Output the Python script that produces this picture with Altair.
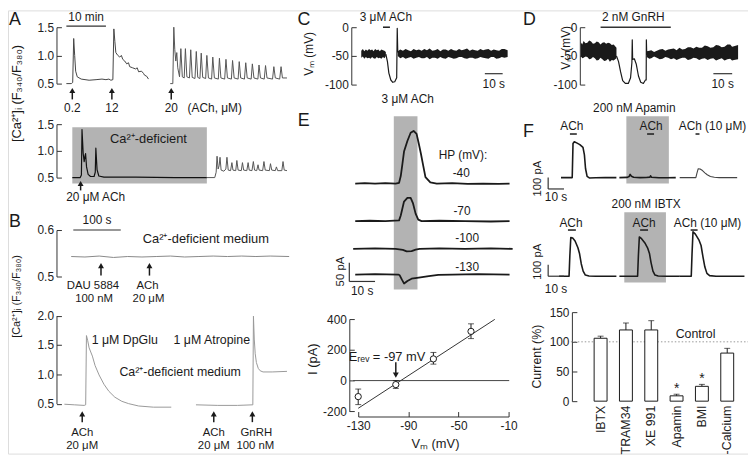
import altair as alt
import pandas as pd

W, H = 748, 448
FONT = "Liberation Sans"
INK = "#1a1a1a"
BOX = "#b3b3b3"

# ---------------- data ----------------
# A (top): time in min, fura-2 ratio
a1_trace1 = [(2.5,0.50),(3.75,0.50),(4.1,0.52),(4.35,1.30),(4.6,1.00),(4.85,0.72),(5.25,0.62),(6.25,0.58),
             (8.25,0.56),(10.0,0.57),(11.5,0.58),(12.5,0.57),(13.25,0.58),(13.75,0.56),(14.25,0.57),(14.5,1.47),
             (14.75,1.25),(15.0,1.05),(15.5,1.00),(16.0,0.97),(16.4,1.00),(16.75,0.93),(17.25,0.90),(17.75,0.85),
             (18.2,0.87),(18.5,0.80),(19.25,0.78),(20.0,0.76),(20.4,0.78),(20.75,0.71),(21.5,0.72),(22.0,0.68),
             (22.25,0.65),(22.8,0.63),(23.25,0.58)]
a1_trace2 = [(28.75,0.50),(29.4,0.50),(29.65,1.50),(29.9,1.10),(30.15,0.90),(30.4,1.05),(30.65,0.78),(31.1,0.62),
             (31.43,1.12),(31.8,0.62),(32.28,0.60),(32.58,1.12),(32.95,0.62),(33.6,0.60),(33.93,1.10),(34.3,0.61),
             (35.0,0.59),(35.33,1.07),(35.7,0.61),(36.25,0.59),(36.58,1.04),(36.95,0.61),(37.7,0.59),(38.0,1.00),
             (38.4,0.60),(39.2,0.58),(39.5,0.97),(39.9,0.60),(40.9,0.58),(41.18,0.95),(41.55,0.60),(42.5,0.58),
             (42.83,0.93),(43.2,0.60),(44.2,0.58),(44.5,0.91),(44.9,0.60),(45.9,0.58),(46.18,0.89),(46.55,0.60),
             (47.5,0.58),(47.83,0.87),(48.2,0.60),(49.2,0.58),(49.5,0.85),(49.9,0.60),(50.9,0.58),(51.18,0.83),
             (51.55,0.60),(52.5,0.58),(52.83,0.82),(53.2,0.60),(54.6,0.58),(54.93,0.80),(55.3,0.60),(56.4,0.58),
             (56.75,0.80),(57.1,0.60),(58.25,0.60)]
a1_arrows = [(4.0,0.22,0.377),(14.0,0.22,0.377),(29.0,0.22,0.377)]
# A (bottom)
a2_trace_in = [(4.0,0.50),(6.0,0.50),(6.3,0.55),(6.45,1.40),(6.75,0.95),(7.0,0.80),(7.2,0.90),(7.35,0.95),
               (7.6,0.70),(8.0,0.56),(8.6,0.52),(9.5,0.52),(9.8,0.60),(9.95,1.05),(10.25,0.65),(10.7,0.53),
               (12.0,0.51),(20.0,0.51),(30.0,0.50),(38.0,0.50)]
a2_trace_out = [(38.0,0.50),(40.0,0.50),(40.35,0.60),(40.58,0.90),(40.85,0.66),(41.1,0.72),(41.33,0.88),(41.6,0.64),
                (42.3,0.62),(42.8,0.66),(43.08,0.88),(43.4,0.64),(44.0,0.63),(44.33,0.78),(44.6,0.64),(45.3,0.63),
                (45.58,0.82),(45.9,0.64),(46.7,0.63),(47.0,0.78),(47.3,0.64),(48.1,0.63),(48.43,0.78),(48.7,0.64),
                (49.4,0.63),(49.75,0.80),(50.05,0.64),(50.6,0.63),(50.93,0.74),(51.2,0.64),(52.1,0.63),(52.43,0.80),
                (52.75,0.64),(53.8,0.63),(54.08,0.76),(54.4,0.64),(55.3,0.63),(55.58,0.70),(55.9,0.63),(56.95,0.63),
                (57.25,0.80),(57.55,0.64),(58.25,0.63)]
a2_arrows = [(6.1,0.26,0.389)]
# B (top): time in s
b1_trace = [(31,0.543),(60,0.542),(90,0.544),(120,0.541),(150,0.543),(180,0.542),(210,0.543),(240,0.544),
            (270,0.542),(300,0.543),(330,0.544),(360,0.543),(390,0.544),(420,0.543),(450,0.544),(490,0.543)]
b1_arrows = [(93.75,0.502,0.5234),(195.8,0.502,0.5234)]
# B (bottom)
b2_trace1 = [(16.7,0.49),(37.5,0.48),(58.3,0.47),(61.5,0.48),(63.1,1.66),(65.6,1.58),(68.75,1.45),(75.6,1.31),
             (81.25,1.15),(89.6,0.99),(100.0,0.83),(110.4,0.71),(122.9,0.61),(137.5,0.54),(152.0,0.50),
             (173.0,0.46),(204.0,0.44),(241.7,0.44)]
b2_trace2 = [(293.75,0.48),(339.6,0.47),(381.25,0.47),(413.5,0.48),(414.8,1.99),(416.5,1.60),(418.5,1.35),
             (421.0,1.20),(425.0,1.10),(429.0,1.06),(435.0,1.04),(454.2,1.04),(485.4,1.05)]
b2_arrows = [(54.2,0.185,0.326),(331.25,0.185,0.326),(412.5,0.185,0.326)]
# C: membrane potential (mV), noise envelope (t, low, high)
c_band1 = [(5.6,-53,-41),(6.5,-51,-38),(7.3,-55,-42),(8.2,-52,-39),(9.0,-54,-41),(10.0,-53,-38),(10.8,-55,-40),
           (11.7,-52,-39),(12.5,-54,-42),(13.4,-55,-38),(14.3,-52,-40),(15.2,-54,-39),(16.0,-53,-42),
           (16.9,-55,-39),(17.8,-52,-40),(18.6,-54,-41),(19.4,-50,-43)]
c_dip = [(19.4,-47),(20.3,-60),(21.1,-80),(22.2,-92),(23.3,-96),(24.4,-95),(25.5,-88),(25.8,-2),(26.1,-44)]
c_band2 = [(26.1,-50,-42),(27.5,-54,-39),(29,-52,-41),(30.5,-55,-38),(32,-53,-40),(33.5,-52,-42),(35,-55,-38),
           (36.5,-53,-40),(38,-52,-39),(39.5,-54,-41),(41,-54,-38),(42.5,-52,-40),(44,-56,-37),(45.5,-53,-41),
           (47,-53,-40),(48.5,-55,-38),(50,-52,-42),(51.5,-54,-39),(53,-55,-39),(54.5,-52,-41),(56,-53,-38),
           (57.5,-55,-40),(59,-54,-41),(60.5,-52,-38),(62,-52,-40),(63.5,-54,-39),(65,-55,-37),(66.5,-53,-41),
           (68,-53,-39),(69.5,-55,-40),(71,-54,-41),(72.5,-52,-38),(74,-53,-40),(75.5,-54,-39),(77,-55,-38),
           (78.5,-52,-41),(80,-52,-39),(81.5,-55,-40),(83,-54,-41),(84.5,-52,-38),(86,-53,-38),(87.8,-52,-40)]
# D
d_band1 = [(0.5,-50,-26),(1.3,-54,-30),(2,-53,-24),(3,-51,-28),(4,-52,-27),(5,-56,-23),(6,-55,-25),
           (7,-52,-29),(8,-54,-28),(9,-58,-25),(10,-57,-26),(11,-53,-30),(12,-56,-27),(13,-59,-26),
           (14,-58,-29),(15,-55,-27),(16,-60,-28),(17,-57,-31),(18,-58,-30),(19.5,-54,-36)]
d_dip = [(19.5,-50),(20.6,-60),(21.7,-78),(22.8,-93),(24.2,-98),(25.8,-98),(27.0,-88),(27.7,-62),(27.9,-22),
         (28.1,-56),(29.0,-55),(30.0,-64),(31.2,-85),(32.4,-96),(33.8,-98),(34.9,-92),(35.3,-92),(35.4,-22),(35.6,-48)]
d_band2 = [(35.6,-52,-42),(37,-55,-41),(38,-54,-40),(39.5,-51,-43),(41,-53,-41),(42.5,-56,-39),(44,-55,-38),
           (45.5,-52,-41),(47,-53,-39),(48.5,-56,-38),(50,-54,-37),(51.5,-57,-40),(53,-55,-36),(54.5,-53,-39),
           (56,-53,-38),(57.5,-57,-35),(59,-56,-35),(60.5,-53,-37),(62,-54,-34),(63.5,-57,-36),(65,-55,-36),
           (66.5,-54,-32),(68,-57,-33),(69.5,-55,-36),(71,-54,-35),(72.5,-58,-31),(74,-56,-32),(75.5,-54,-35),
           (77,-58,-34),(78.5,-56,-30),(80,-55,-30),(81,-58,-34),(82,-57,-33),(84.2,-56,-31)]
# E: currents (pA) at holding potentials
e_40 = [(2.3,0),(6,1),(10,0),(14,1),(18,0),(19.35,2),(20.0,20),(20.65,52),(21.27,85),(22.58,113),(23.85,135),
        (25.0,140),(26.15,132),(27.04,105),(27.88,78),(28.58,53),(29.6,17),(31.5,3),(34,0),(40,1),(46,-1),
        (52,0),(58,-1),(62.3,0)]
e_70 = [(2.3,0),(8,1),(14,0),(19.35,2),(20.0,15),(21.27,52),(22.58,62),(23.85,62),(24.73,48),(25.77,20),
        (26.8,4),(28.1,0),(35,1),(45,0),(55,-1),(62.3,0)]
e_100 = [(1.5,0),(10,1),(18,0),(20.8,-3),(22.3,-7),(24.2,-6),(25.8,-2),(27.3,0),(35,1),(45,0),(55,1),(63.5,0)]
e_130 = [(2.3,0),(10,1),(19.0,0),(19.6,-2),(20.4,-13),(21.3,-24),(22.6,-17),(24.2,-11),(27.0,-8),(30.9,-4),
         (34.6,-1),(40,0),(50,1),(62.3,0)]
# E: I-V relation
iv_vm = [-130, -100, -70, -40]
iv_i = [-104, -26, 141, 320]
iv_lo = [-156, -51, 107, 273]
iv_hi = [-55, 0, 183, 369]
iv_fit = [(-130, -180), (-21, 398)]
# F: currents (pA)
f1_tr1 = [(8.1,0),(15.2,0),(15.7,300),(16.5,315),(18,305),(20,290),(22,265),(22.9,200),(23.6,80),(24.6,10),
          (26,-3),(30,-2),(36,0),(43.1,0)]
f1_tr2 = [(45,0),(50,2),(51.2,10),(51.8,28),(52.6,12),(54,3),(58,0),(62,1),(64.3,4),(64.7,16),(65.2,3),
          (70,-2),(75,-1),(80.6,0)]
f1_tr3 = [(83.1,0),(93.3,0),(94,40),(94.8,78),(96,75),(97.5,62),(99,42),(100.5,25),(102.5,10),(105,3),
          (108,0),(119.4,0)]
f2_tr1 = [(6.9,0),(13.2,0),(13.7,180),(14.3,340),(15.5,335),(17,310),(18.8,250),(19.8,200),(20.9,110),
          (22.1,45),(23.5,10),(25.8,2),(30,0),(43.1,0)]
f2_tr2 = [(45,0),(56.5,0),(57,180),(57.6,345),(59,330),(61,295),(62.8,250),(64,200),(65,120),(66.2,45),
          (67.5,10),(69.5,2),(75,0),(83.1,0)]
f2_tr3 = [(83,0),(90.4,0),(90.9,200),(91.5,390),(93,370),(95.2,320),(96.6,270),(97.8,170),(99,80),
          (100.3,25),(102,5),(106,0),(124,0)]
# F: summary bars (% of control)
bar_cats = ["IBTX", "TRAM34", "XE 991", "Apamin", "BMI", "-Calcium"]
bar_vals = [106, 120, 120, 9, 25, 81]
bar_err_top = [109.5, 131.7, 135.6, 11.7, 28.3, 89]
bar_star = ["", "", "", "*", "*", ""]
bar_star_pos = [0, 0, 0, 20, 38, 0]

# ---------------- panel scales (layout) ----------------
def S(d0, d1, p0, p1):
    return alt.Scale(domain=[d0, d1], range=[p0 - 8, p1 - 8], nice=False, zero=False)

P = {
    'A1': (S(0, 60, 57, 297), S(0.5, 1.5, 82, 25)),
    'A2': (S(0, 60, 57, 297), S(0.5, 1.5, 177, 123)),
    'B1': (S(0, 500, 57, 297), S(0.5, 0.6, 277, 230)),
    'B2': (S(0, 500, 57, 297), S(0.5, 2.0, 405.5, 316.5)),
    'C': (S(0, 100, 355, 535), S(-100, 0, 83, 25)),
    'D': (S(0, 100, 586, 776), S(-100, 0, 83, 25)),
    'E40': (S(0, 70, 353, 535), S(0, 100, 183, 145)),
    'E70': (S(0, 70, 353, 535), S(0, 100, 221, 183)),
    'E100': (S(0, 70, 353, 535), S(0, 100, 249, 211)),
    'E130': (S(0, 70, 353, 535), S(0, 100, 275, 237)),
    'EIV': (S(-130, -10, 362, 514), S(-200, 400, 413.3, 320)),
    'F1': (S(0, 130, 554, 762), S(0, 100, 177, 165.5)),
    'F2': (S(0, 130, 554, 762), S(0, 100, 276.7, 265.2)),
    'FB': (alt.Scale(domain=bar_cats, range=[594.2 - 8, 747.8 - 8], paddingInner=0.49, paddingOuter=0.245),
           S(0, 150, 403, 313)),
    'FC': (S(0, 1, 577, 757), S(0, 150, 403, 313)),
    'PG': (S(0, 756, 0, 756), S(0, 456, 0, 456)),
}

layers = []

def XQ(panel, field='t'):
    return alt.X(f'{field}:Q', scale=P[panel][0], axis=None)

def YQ(panel, field='v'):
    return alt.Y(f'{field}:Q', scale=P[panel][1], axis=None)

def add_line(pts, panel, color=INK, width=1.0):
    df = pd.DataFrame(pts, columns=['t', 'v'])
    df['i'] = range(len(df))
    layers.append(alt.Chart(df).mark_line(color=color, strokeWidth=width, strokeJoin='round')
                  .encode(x=XQ(panel), y=YQ(panel), order='i:Q'))

def add_band(rows, panel, color=INK):
    df = pd.DataFrame(rows, columns=['t', 'lo', 'hi'])
    layers.append(alt.Chart(df).mark_area(color=color, opacity=1)
                  .encode(x=XQ(panel), y=YQ(panel, 'lo'), y2='hi:Q'))

def add_rect(panel, t0, t1, v0, v1, color=BOX):
    df = pd.DataFrame([{'t': t0, 't2': t1, 'v': v0, 'v2': v1}])
    layers.append(alt.Chart(df).mark_rect(color=color)
                  .encode(x=XQ(panel), x2='t2:Q', y=YQ(panel), y2='v2:Q'))

def add_seg(segs, panel, color=INK, width=1.0, dash=None):
    df = pd.DataFrame(segs, columns=['t', 't2', 'v', 'v2'])
    kw = dict(color=color, strokeWidth=width)
    if dash:
        kw['strokeDash'] = dash
    layers.append(alt.Chart(df).mark_rule(**kw)
                  .encode(x=XQ(panel), x2='t2:Q', y=YQ(panel), y2='v2:Q'))

def add_text(items, panel, size=12, angle=0, align='center', baseline='middle', color=INK):
    df = pd.DataFrame(items, columns=['label', 't', 'v'])
    kw = dict(fontSize=size, align=align, baseline=baseline, color=color, font=FONT)
    if angle:
        kw['angle'] = angle
    layers.append(alt.Chart(df).mark_text(**kw).encode(x=XQ(panel), y=YQ(panel), text='label:N'))

def add_arrows(items, panel, up=True):
    df = pd.DataFrame(items, columns=['t', 'base', 'head'])
    layers.append(alt.Chart(df).mark_rule(color=INK, strokeWidth=1.5)
                  .encode(x=XQ(panel), y=YQ(panel, 'base'), y2='head:Q'))
    layers.append(alt.Chart(df).mark_point(shape='triangle-up' if up else 'triangle-down', filled=True,
                                           color=INK, size=36, opacity=1)
                  .encode(x=XQ(panel), y=YQ(panel, 'head')))

AX = dict(title=None, grid=False, labelFont=FONT, labelFontSize=12, labelColor='#222',
          domainColor='#333', tickColor='#333', labelOverlap=False, labelFlush=False)

def add_yaxis(panel, ticks, xpix, fmt=None):
    df = pd.DataFrame({'v': ticks})
    kw = dict(AX, orient='right', offset=(xpix - 8) - W, values=ticks, tickSize=5,
              labelPadding=-8, labelAlign='right', labelBaseline='middle')
    if fmt:
        kw['format'] = fmt
    else:
        kw['labelExpr'] = "'' + datum.value"
    layers.append(alt.Chart(df).mark_point(opacity=0)
                  .encode(x=alt.value(0), y=alt.Y('v:Q', scale=P[panel][1], axis=alt.Axis(**kw))))

# ---------------- panel A ----------------
add_yaxis('A1', [0.5, 1.0, 1.5], 57, '.1f')
add_line(a1_trace1, 'A1', '#444', 1.0)
add_line(a1_trace2, 'A1', '#555', 1.0)
add_arrows(a1_arrows, 'A1')
add_seg([(2.5, 12.5, 1.52, 1.52)], 'A1', '#333', 1.2)
add_text([("10 min", 7.5, 1.675)], 'A1')
add_text([("0.2", 4.0, 0.06), ("12", 14.0, 0.06), ("20", 29.0, 0.06), ("(ACh, μM)", 40.0, 0.06)], 'A1')
add_text([("[Ca²⁺]ᵢ (F₃₄₀/F₃₈₀)", -10, 0.325)], 'A1', size=13, angle=270)

add_rect('A2', 4.0, 38.0, 0.39, 1.44)
add_yaxis('A2', [0.5, 1.0, 1.5], 57, '.1f')
add_line(a2_trace_in, 'A2', '#111', 1.2)
add_line(a2_trace_out, 'A2', '#555', 1.0)
add_arrows(a2_arrows, 'A2')
add_text([("Ca²⁺-deficient", 23.25, 1.22)], 'A2', size=13)
add_text([("20 μM ACh", 9.9, 0.13)], 'A2')

# ---------------- panel B ----------------
add_yaxis('B1', [0.5, 0.6], 57, '.1f')
add_line(b1_trace, 'B1', '#888', 1.0)
add_arrows(b1_arrows, 'B1')
add_seg([(35.4, 135.4, 0.6, 0.6)], 'B1', '#333', 1.2)
add_text([("100 s", 85.4, 0.621)], 'B1')
add_text([("Ca²⁺-deficient medium", 314.6, 0.581)], 'B1', size=13)
add_text([("DAU 5884", 76.7, 0.480), ("100 nM", 79.2, 0.452), ("ACh", 191.7, 0.480), ("20 μM", 193.75, 0.452)],
         'B1', size=11.5)
add_text([("[Ca²⁺]ᵢ (F₃₄₀/F₃₈₀)", -83.3, 0.457)], 'B1', size=11, angle=270)

add_yaxis('B2', [0.5, 1.0, 1.5, 2.0], 57, '.1f')
add_line(b2_trace1, 'B2', '#999', 1.0)
add_line(b2_trace2, 'B2', '#999', 1.0)
add_arrows(b2_arrows, 'B2')
add_text([("1 μM DpGlu", 143.75, 1.587), ("1 μM Atropine", 327.0, 1.587)], 'B2', size=12.5)
add_text([("Ca²⁺-deficient medium", 260.4, 1.037)], 'B2', size=12.5)
add_text([("ACh", 54.2, 0.005), ("20 μM", 54.2, -0.215), ("ACh", 331.25, 0.005), ("20 μM", 331.25, -0.215),
          ("GnRH", 420.8, 0.005), ("100 nM", 418.75, -0.215)], 'B2', size=11.5)

# ---------------- panel C ----------------
add_yaxis('C', [-100, -50, 0], 355)
add_band(c_band1, 'C')
add_band(c_band2, 'C')
add_line(c_dip, 'C', INK, 1.2)
add_seg([(17.8, 21.7, 0, 0)], 'C', INK, 1.5)
add_text([("3 μM ACh", 19.4, 17.2)], 'C')
add_seg([(75, 85, -81, -81)], 'C', '#333', 1.2)
add_text([("10 s", 80, -98.3)], 'C')
add_text([("Vₘ (mV)", -23.9, -46.5)], 'C', size=12, angle=270)

# ---------------- panel D ----------------
add_yaxis('D', [-100, -50, 0], 586)
add_band(d_band1, 'D')
add_band(d_band2, 'D')
add_line(d_dip, 'D', INK, 1.2)
add_seg([(11.05, 48.4, 0, 0)], 'D', '#333', 1.5)
add_text([("2 nM GnRH", 28.4, 17.2)], 'D')
add_seg([(71.05, 81.05, -81, -81)], 'D', '#333', 1.2)
add_text([("10 s", 76, -98.3)], 'D')
add_text([("Vₘ (mV)", -7.3, -36)], 'D', size=12, angle=270)

# ---------------- panel E traces ----------------
add_rect('E40', 17.3, 26.5, -281.6, 179)
add_line(e_40, 'E40', INK, 1.8)
add_line(e_70, 'E70', INK, 1.8)
add_line(e_100, 'E100', INK, 1.8)
add_line(e_130, 'E130', INK, 1.8)
add_text([("3 μM ACh", 22.7, 224), ("HP (mV):", 44.2, 76), ("-40", 43.5, 29)], 'E40')
add_text([("-70", 43.8, 26)], 'E70')
add_text([("-100", 45.8, 29)], 'E100')
add_text([("-130", 45.8, 21)], 'E130')
add_seg([(0, 0, -18.4, 31.6), (0, 10, -18.4, -18.4)], 'E130', '#333', 1.2)
add_text([("10 s", 5, -44.7)], 'E130')
add_text([("50 pA", -3.1, 7.9)], 'E130', size=11.5, angle=270)

# ---------------- panel E I-V ----------------
iv = pd.DataFrame({'t': iv_vm, 'v': iv_i, 'lo': iv_lo, 'hi': iv_hi})
layers.append(alt.Chart(pd.DataFrame({'t': [-130, -90, -50, -10]})).mark_point(opacity=0).encode(
    y=alt.value(0),
    x=alt.X('t:Q', scale=P['EIV'][0], axis=alt.Axis(**dict(AX, orient='top', offset=-(418.5 - 8),
            values=[-130, -90, -50, -10], tickSize=5, labelPadding=-9, labelBaseline='top',
            labelAlign='center', labelExpr="'' + datum.value")))))
add_yaxis('EIV', [-200, 0, 200, 400], 353)
add_seg([(-134, -9.5, 0, 0)], 'EIV', '#444', 1.0)
add_line(iv_fit, 'EIV', '#333', 1.0)
layers.append(alt.Chart(iv).mark_rule(color=INK, strokeWidth=1).encode(x=XQ('EIV'), y=YQ('EIV', 'lo'), y2='hi:Q'))
for f in ['lo', 'hi']:
    layers.append(alt.Chart(iv).mark_tick(orient='horizontal', size=6, thickness=1, color=INK)
                  .encode(x=XQ('EIV'), y=YQ('EIV', f)))
layers.append(alt.Chart(iv).mark_point(shape='circle', size=40, filled=True, fill='white', stroke=INK,
                                       strokeWidth=1, opacity=1).encode(x=XQ('EIV'), y=YQ('EIV')))
add_arrows([(-100, 119, 36)], 'EIV', up=False)
add_text([("Eᵣₑᵥ = -97 mV", -107, 151)], 'EIV', size=13)
add_text([("Vₘ (mV)", -68.4, -411)], 'EIV', size=13)
add_text([("I (pA)", -166.3, 139)], 'EIV', size=13, angle=270)

# ---------------- panel F traces ----------------
add_rect('F1', 49.4, 76.25, -52, 539)
add_line(f1_tr1, 'F1', INK, 1.6)
add_line(f1_tr2, 'F1', INK, 1.6)
add_line(f1_tr3, 'F1', '#444', 1.1)
add_seg([(13.75, 18.1, 383, 383), (62.5, 66.9, 383, 383), (93.1, 95.6, 383, 383)], 'F1', INK, 1.5)
add_text([("ACh", 15, 452), ("ACh", 65, 452)], 'F1')
add_text([("ACh (10 μM)", 82.5, 452)], 'F1', align='left')
add_text([("200 nM Apamin", 54.4, 609)], 'F1')
add_seg([(0, 0, -100, 0), (0, 10, -100, -100)], 'F1', '#333', 1.2)
add_text([("10 s", 5, -174)], 'F1')
add_text([("100 pA", -6.25, -9)], 'F1', size=11.5, angle=270)

add_rect('F2', 48.1, 74.4, -55, 563)
add_line(f2_tr1, 'F2', INK, 1.6)
add_line(f2_tr2, 'F2', INK, 1.6)
add_line(f2_tr3, 'F2', INK, 1.6)
add_seg([(12.5, 17.5, 406, 406), (58.1, 63.1, 406, 406), (90, 94.4, 406, 406)], 'F2', INK, 1.5)
add_text([("ACh", 14.4, 467), ("ACh", 60.6, 467)], 'F2')
add_text([("ACh (10 μM)", 79.4, 467)], 'F2', align='left')
add_text([("200 nM IBTX", 61.9, 632)], 'F2')
add_seg([(0, 0, 0, 100), (0, 10, 0, 0)], 'F2', '#333', 1.2)
add_text([("10 s", 5, -116)], 'F2')
add_text([("100 pA", -6.25, 128)], 'F2', size=11.5, angle=270)

# ---------------- panel F bars ----------------
bars = pd.DataFrame({'cat': bar_cats, 'val': bar_vals, 'top': bar_err_top, 'star': bar_star,
                     'spos': bar_star_pos, 'zero': [0] * len(bar_cats)})
xb = alt.X('cat:N', scale=P['FB'][0], sort=bar_cats, axis=None)
add_yaxis('FB', [0, 50, 100, 150], 578)
add_seg([(0, 1, 100, 100)], 'FC', '#999', 1.0, dash=[1.5, 2])
add_text([("Control", 0.7, 113)], 'FC', size=12.5)
add_text([("Current (%)", -0.189, 75)], 'FC', size=12.5, angle=270)
layers.append(alt.Chart(bars).mark_rule(color=INK, strokeWidth=1).encode(x=xb, y=YQ('FB', 'val'), y2='top:Q'))
layers.append(alt.Chart(bars).mark_tick(orient='horizontal', size=6, thickness=1, color=INK)
              .encode(x=xb, y=YQ('FB', 'top')))
layers.append(alt.Chart(bars).mark_bar(fill='white', stroke=INK, strokeWidth=1).encode(
    x=alt.X('cat:N', scale=P['FB'][0], sort=bar_cats,
            axis=alt.Axis(**dict(AX, orient='bottom', offset=(403 - 8) - H, labelAngle=270, domain=False,
                                 ticks=False, tickSize=0, labelPadding=4, labelFontSize=12.5))),
    y=YQ('FB', 'val'), y2='zero:Q'))
layers.append(alt.Chart(bars).mark_text(fontSize=14, font=FONT, color=INK, baseline='middle')
              .encode(x=xb, y=YQ('FB', 'spos'), text='star:N'))

# ---------------- panel letters ----------------
add_text([("A", 15, 18), ("B", 15, 222), ("C", 307, 18), ("D", 535, 18),
          ("E", 307, 120), ("F", 534, 131)], 'PG', size=18)

chart = alt.layer(*layers).resolve_scale(x='independent', y='independent').properties(
    width=W, height=H, padding=0, autosize=alt.AutoSizeParams(type='none'), background='white'
).configure_view(strokeWidth=0).configure(font=FONT)

chart.save("out.html", embed_options={"renderer": "svg", "actions": False})
